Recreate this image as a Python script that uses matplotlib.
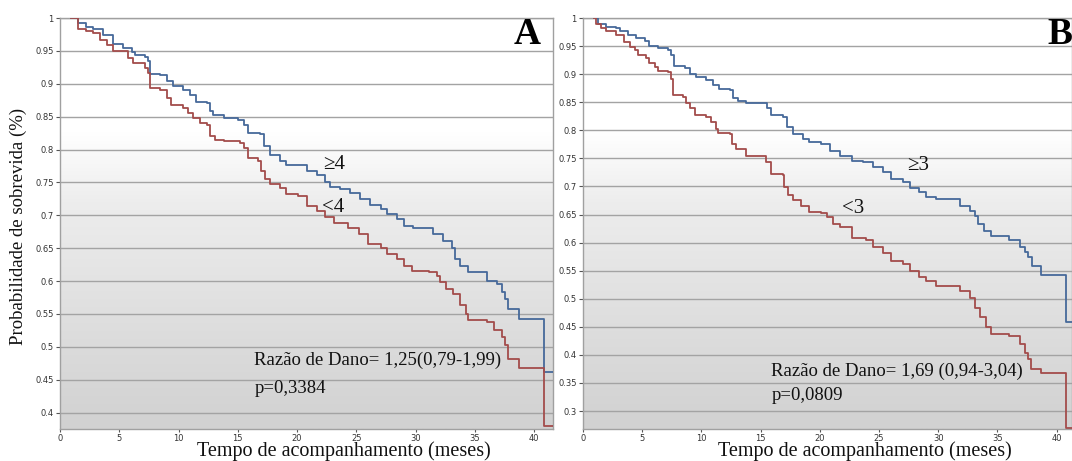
import numpy as np
import matplotlib
matplotlib.use('Agg')
import matplotlib.pyplot as plt
from matplotlib.colors import LinearSegmentedColormap

# Panel A: survival curves (time in months, survival probability)
a_hi_t = [0.9, 1.5, 2.2, 2.8, 3.65, 4.5, 5.35, 6.05, 6.3, 7.2, 7.45, 7.6, 8.4, 9.0, 9.56,
          10.4, 10.97, 11.5, 12.4, 12.66, 12.9, 13.8, 15.05, 15.5, 15.9, 16.9, 17.2, 17.7,
          18.6, 19.1, 20.1, 20.8, 21.7, 22.4, 22.8, 23.6, 24.5, 25.3, 26.2, 27.1, 27.6,
          28.4, 29.0, 29.8, 31.5, 32.35, 33.05, 33.3, 33.75, 34.45, 36.0, 36.85, 37.3,
          37.55, 37.8, 38.75, 40.8, 41.6]
a_hi_s = [1.0, 0.993, 0.987, 0.984, 0.974, 0.96, 0.954, 0.949, 0.944, 0.941, 0.934, 0.915,
          0.914, 0.904, 0.896, 0.891, 0.883, 0.873, 0.871, 0.858, 0.853, 0.848, 0.845,
          0.838, 0.825, 0.823, 0.805, 0.792, 0.782, 0.777, 0.776, 0.767, 0.762, 0.75,
          0.743, 0.74, 0.734, 0.724, 0.715, 0.709, 0.702, 0.694, 0.684, 0.68, 0.671,
          0.661, 0.651, 0.633, 0.623, 0.613, 0.60, 0.595, 0.583, 0.573, 0.558, 0.543,
          0.461, 0.461]
a_lo_t = [0.9, 1.55, 2.2, 2.8, 3.4, 3.94, 4.5, 5.76, 6.2, 7.17, 7.45, 7.6, 8.4, 9.0, 9.4,
          10.4, 10.8, 11.25, 11.8, 12.4, 12.66, 13.1, 13.8, 15.2, 15.5, 15.9, 16.7, 17.0,
          17.3, 17.7, 18.6, 19.1, 20.1, 20.8, 21.7, 22.4, 23.1, 24.3, 25.2, 26.0, 27.1,
          27.6, 28.4, 29.0, 29.7, 31.1, 31.8, 32.1, 32.6, 33.2, 33.75, 34.3, 34.45, 36.0,
          36.6, 37.3, 37.55, 37.8, 38.7, 40.8, 41.6]
a_lo_s = [1.0, 0.984, 0.98, 0.977, 0.967, 0.959, 0.95, 0.939, 0.931, 0.924, 0.916, 0.893,
          0.891, 0.878, 0.868, 0.863, 0.856, 0.848, 0.84, 0.838, 0.82, 0.815, 0.813, 0.81,
          0.803, 0.787, 0.782, 0.767, 0.755, 0.747, 0.742, 0.732, 0.729, 0.714, 0.707,
          0.697, 0.689, 0.681, 0.671, 0.656, 0.651, 0.641, 0.633, 0.623, 0.616, 0.614,
          0.608, 0.598, 0.588, 0.58, 0.563, 0.55, 0.541, 0.537, 0.525, 0.515, 0.502,
          0.482, 0.468, 0.38, 0.38]

# Panel B
b_hi_t = [0.9, 1.3, 1.97, 2.8, 3.1, 3.8, 4.5, 5.2, 5.6, 6.3, 7.2, 7.45, 7.65, 8.6, 9.0,
          9.56, 10.4, 10.97, 11.5, 12.4, 12.66, 13.1, 13.8, 15.5, 15.9, 16.9, 17.2, 17.7,
          18.6, 19.1, 20.1, 20.85, 21.7, 22.7, 23.65, 24.5, 25.3, 26.05, 27.0, 27.6, 28.4,
          29.0, 29.85, 31.8, 32.7, 33.1, 33.4, 33.9, 34.5, 36.0, 36.9, 37.3, 37.6, 37.9,
          38.7, 40.8, 41.3]
b_hi_s = [1.0, 0.99, 0.984, 0.982, 0.977, 0.97, 0.964, 0.959, 0.95, 0.946, 0.943, 0.934,
          0.915, 0.911, 0.901, 0.895, 0.889, 0.88, 0.873, 0.871, 0.857, 0.852, 0.848,
          0.839, 0.827, 0.824, 0.806, 0.794, 0.785, 0.779, 0.776, 0.764, 0.755, 0.745,
          0.743, 0.734, 0.726, 0.714, 0.708, 0.698, 0.69, 0.681, 0.677, 0.666, 0.657,
          0.648, 0.633, 0.621, 0.612, 0.604, 0.592, 0.583, 0.574, 0.559, 0.543, 0.459,
          0.459]
b_lo_t = [0.9, 1.1, 1.55, 1.97, 2.8, 3.5, 3.94, 4.36, 4.64, 5.35, 5.6, 6.05, 6.3, 7.2, 7.4,
          7.6, 8.44, 8.7, 9.0, 9.43, 10.4, 10.83, 11.25, 11.4, 12.4, 12.6, 12.94, 13.8,
          15.47, 15.9, 16.9, 17.0, 17.3, 17.7, 18.4, 19.1, 20.1, 20.6, 21.1, 21.7, 22.7,
          23.9, 24.5, 25.3, 26.05, 27.0, 27.6, 28.4, 29.0, 29.85, 31.8, 32.66, 33.1, 33.5,
          34.07, 34.5, 36.0, 36.9, 37.3, 37.6, 37.86, 38.7, 40.8, 41.3]
b_lo_s = [1.0, 0.99, 0.982, 0.976, 0.97, 0.958, 0.949, 0.943, 0.934, 0.928, 0.919, 0.913,
          0.905, 0.904, 0.892, 0.862, 0.859, 0.848, 0.839, 0.827, 0.824, 0.815, 0.803,
          0.796, 0.793, 0.776, 0.767, 0.755, 0.743, 0.723, 0.72, 0.699, 0.684, 0.675,
          0.666, 0.654, 0.652, 0.645, 0.633, 0.627, 0.609, 0.605, 0.592, 0.581, 0.568,
          0.562, 0.549, 0.538, 0.532, 0.523, 0.514, 0.502, 0.484, 0.467, 0.449, 0.437,
          0.434, 0.419, 0.404, 0.392, 0.374, 0.368, 0.27, 0.27]

x_ticks = [0, 5, 10, 15, 20, 25, 30, 35, 40]
a_yticks = [0.4, 0.45, 0.5, 0.55, 0.6, 0.65, 0.7, 0.75, 0.8, 0.85, 0.9, 0.95, 1.0]
b_yticks = [0.3, 0.35, 0.4, 0.45, 0.5, 0.55, 0.6, 0.65, 0.7, 0.75, 0.8, 0.85, 0.9, 0.95, 1.0]

BLUE = '#46699a'
RED = '#a34c4b'
GRID = '#a3a3a3'
serif = ['Liberation Serif', 'DejaVu Serif']

bg = LinearSegmentedColormap.from_list(
    'bg', [(0, '#d1d1d1'), (0.55, '#ededed'), (0.72, '#ffffff'), (1, '#ffffff')])

W, H = 1072, 461
fig = plt.figure(figsize=(W / 100, H / 100), dpi=100)
axA = fig.add_axes([60 / W, 32 / H, 493 / W, 411 / H])
axB = fig.add_axes([583 / W, 32 / H, 489 / W, 411 / H])


def style(ax, yticks, xmax, ymin):
    grad = np.linspace(0, 1, 256).reshape(-1, 1)
    ax.imshow(grad, extent=[0, 1, 0, 1], transform=ax.transAxes, origin='lower',
              aspect='auto', cmap=bg, zorder=0)
    ax.set_xlim(0, xmax)
    ax.set_ylim(ymin, 1.0)
    ax.set_yticks(yticks)
    ax.set_yticklabels(['%g' % v for v in yticks])
    ax.set_xticks(x_ticks)
    for y in yticks:
        ax.axhline(y, color=GRID, lw=1.0, zorder=1)
    ax.tick_params(labelsize=6, colors='#555555', labelcolor='#333333',
                   length=3, width=0.8, pad=1.5)
    ax.tick_params(axis='x', length=2.5, pad=1)
    for s in ax.spines.values():
        s.set_color('#a0a0a0')
        s.set_linewidth(1.0)


style(axA, a_yticks, 41.6, 0.375)
style(axB, b_yticks, 41.3, 0.268)

axA.step(a_hi_t, a_hi_s, where='post', color=BLUE, lw=1.3, zorder=3)
axA.step(a_lo_t, a_lo_s, where='post', color=RED, lw=1.3, zorder=3)
axB.step(b_hi_t, b_hi_s, where='post', color=BLUE, lw=1.3, zorder=3)
axB.step(b_lo_t, b_lo_s, where='post', color=RED, lw=1.3, zorder=3)

tk = dict(family=serif, fontsize=15, color='#111111', va='center', ha='left', zorder=4)
axA.text(22.2, 0.777, '≥4', **tk)
axA.text(22.1, 0.712, '<4', **tk)
axB.text(27.4, 0.737, '≥3', **tk)
axB.text(21.9, 0.660, '<3', **tk)

hr = dict(tk, fontsize=13.5)
axA.text(16.4, 0.480, 'Razão de Dano= 1,25(0,79-1,99)', **hr)
axA.text(16.4, 0.436, 'p=0,3384', **hr)
axB.text(15.9, 0.371, 'Razão de Dano= 1,69 (0,94-3,04)', **hr)
axB.text(15.9, 0.327, 'p=0,0809', **hr)

axA.text(0.974, 0.96, 'A', transform=axA.transAxes, family=serif, fontsize=27,
         fontweight='bold', ha='right', va='center', zorder=5)
axB.text(1.0, 0.96, 'B', transform=axB.transAxes, family=serif, fontsize=27,
         fontweight='bold', ha='right', va='center', zorder=5, clip_on=False)

for xc in (344, 865):
    fig.text(xc / W, 1 - 460.5 / H, 'Tempo de acompanhamento (meses)', family=serif,
             fontsize=14.5, color='#111111', ha='center', va='bottom')
fig.text(18 / W, 1 - 226 / H, 'Probabilidade de sobrevida (%)', family=serif,
         fontsize=13.5, color='#111111', ha='center', va='center', rotation=90)

fig.savefig('out.png', dpi=100)
